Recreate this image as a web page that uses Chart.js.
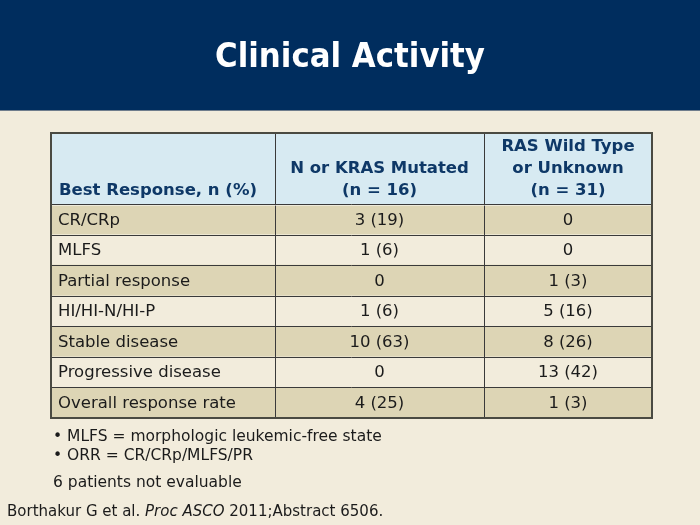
<!DOCTYPE html>
<html>
<head>
<meta charset="utf-8">
<script src="https://cdn.jsdelivr.net/npm/chart.js@4/dist/chart.umd.min.js"></script>
<style>
  html, body { margin: 0; padding: 0; background: #f2ecdc; }
  #wrap { width: 700px; height: 525px; }
</style>
</head>
<body>
<div id="wrap"><canvas id="c" width="700" height="525"></canvas></div>
<script>
// ---- data ----
const title = 'Clinical Activity';
const columnHeaders = [
  ['Best Response, n (%)'],
  ['N or KRAS Mutated', '(n = 16)'],
  ['RAS Wild Type', 'or Unknown', '(n = 31)']
];
const rowLabels = ['CR/CRp', 'MLFS', 'Partial response', 'HI/HI-N/HI-P', 'Stable disease', 'Progressive disease', 'Overall response rate'];
const mutatedN   = [3, 1, 0, 1, 10, 0, 4];
const mutatedPct = [19, 6, null, 6, 63, null, 25];
const wildN      = [0, 0, 1, 5, 8, 13, 1];
const wildPct    = [null, null, 3, 16, 26, 42, 3];
const footnotes = ['• MLFS = morphologic leukemic-free state', '• ORR = CR/CRp/MLFS/PR'];
const noteLine = '6 patients not evaluable';

// ---- layout / style constants ----
const COL_EDGES = [0, 224, 432, 600];
const HEADER_TOP = 133;
const FONT = '"DejaVu Sans", Verdana, sans-serif';
const C_BG = '#f2ecdc', C_NAVY = '#002d5e', C_HEAD = '#d7eaf2', C_TAN = '#ddd5b5', C_LIGHT = '#f2ecdc';
const C_HEAD_TXT = '#0e3867', C_TXT = '#1b1b1b', C_LINE = '#3a3a3a';

const fmt = (n, p) => (p === null || p === undefined) ? String(n) : `${n} (${p})`;
const cells = rowLabels.map((lab, i) => [lab, fmt(mutatedN[i], mutatedPct[i]), fmt(wildN[i], wildPct[i])]);

const tablePlugin = {
  id: 'tablePlugin',
  beforeDraw(chart) {
    const ctx = chart.ctx;
    ctx.save();
    ctx.fillStyle = C_BG;
    ctx.fillRect(0, 0, chart.width, chart.height);
    ctx.fillStyle = C_NAVY;
    ctx.fillRect(0, 0, chart.width, 110);
    ctx.fillStyle = '#6f7d8c';
    ctx.fillRect(0, 110, chart.width, 1);
    ctx.fillStyle = '#ffffff';
    ctx.font = `bold 34px ${FONT}`;
    ctx.textAlign = 'center';
    ctx.textBaseline = 'alphabetic';
    ctx.fillText(title, 350, 67, 270);
    ctx.restore();
  },
  afterDatasetsDraw(chart) {
    const ctx = chart.ctx;
    const xs = chart.scales.x, ys = chart.scales.y;
    const area = chart.chartArea;
    const xEdge = COL_EDGES.map(v => Math.round(xs.getPixelForValue(v)));
    const band = (ys.getPixelForValue(1) - ys.getPixelForValue(0));
    ctx.save();
    // header background
    ctx.fillStyle = C_HEAD;
    ctx.fillRect(xEdge[0], HEADER_TOP, xEdge[3] - xEdge[0], area.top - HEADER_TOP);
    // header text
    ctx.fillStyle = C_HEAD_TXT;
    ctx.font = `bold 16.5px ${FONT}`;
    ctx.textBaseline = 'middle';
    const lineH = 22;
    const lastY = 191;
    columnHeaders.forEach((lines, c) => {
      const cx = c === 0 ? xEdge[0] + 8 : (xEdge[c] + xEdge[c + 1]) / 2;
      ctx.textAlign = c === 0 ? 'left' : 'center';
      lines.forEach((t, k) => {
        const y = lastY - (lines.length - 1 - k) * lineH;
        ctx.fillText(t, cx, y);
      });
    });
    // body text
    ctx.fillStyle = C_TXT;
    ctx.font = `16.5px ${FONT}`;
    cells.forEach((row, i) => {
      const cy = ys.getPixelForValue(i) + 1;
      row.forEach((t, c) => {
        if (c === 0) { ctx.textAlign = 'left'; ctx.fillText(t, xEdge[0] + 7, cy); }
        else { ctx.textAlign = 'center'; ctx.fillText(t, (xEdge[c] + xEdge[c + 1]) / 2, cy); }
      });
    });
    // inner grid lines
    const bottom = Math.round(area.bottom);
    ctx.strokeStyle = C_LINE;
    ctx.lineWidth = 1;
    ctx.beginPath();
    for (let i = 0; i < rowLabels.length; i++) {
      const y = Math.round(ys.getPixelForValue(i) - band / 2) + 0.5;
      ctx.moveTo(xEdge[0], y); ctx.lineTo(xEdge[3], y);
    }
    for (let c = 1; c < xEdge.length - 1; c++) {
      ctx.moveTo(xEdge[c] + 0.5, HEADER_TOP); ctx.lineTo(xEdge[c] + 0.5, bottom);
    }
    ctx.stroke();
    // light line under header
    ctx.strokeStyle = 'rgba(255,255,255,0.5)';
    ctx.beginPath();
    const hy = Math.round(area.top) + 1.5;
    ctx.moveTo(xEdge[0], hy); ctx.lineTo(xEdge[3], hy);
    ctx.stroke();
    // outer border
    ctx.strokeStyle = '#4a4a42';
    ctx.lineWidth = 2;
    ctx.strokeRect(xEdge[0], HEADER_TOP, xEdge[3] - xEdge[0], bottom - HEADER_TOP);
    // footnotes
    ctx.fillStyle = C_TXT;
    ctx.textAlign = 'left';
    ctx.font = `15.5px ${FONT}`;
    footnotes.forEach((t, k) => ctx.fillText(t, 53, 437 + k * 19));
    ctx.fillText(noteLine, 53, 483);
    let x = 7;
    const parts = [['Borthakur G et al. ', ''], ['Proc ASCO', 'italic '], [' 2011;Abstract 6506.', '']];
    parts.forEach(([t, st]) => {
      ctx.font = `${st}15px ${FONT}`;
      ctx.fillText(t, x, 512);
      x += ctx.measureText(t).width;
    });
    ctx.restore();
  }
};

new Chart(document.getElementById('c'), {
  type: 'bar',
  data: {
    labels: rowLabels,
    datasets: [{
      data: rowLabels.map(() => [COL_EDGES[0], COL_EDGES[COL_EDGES.length - 1]]),
      backgroundColor: rowLabels.map((_, i) => i % 2 === 0 ? C_TAN : C_LIGHT),
      borderWidth: 0,
      barPercentage: 1,
      categoryPercentage: 1
    }]
  },
  options: {
    indexAxis: 'y',
    responsive: false,
    animation: false,
    layout: { padding: { left: 51, right: 48, top: 204, bottom: 107 } },
    plugins: { legend: { display: false }, tooltip: { enabled: false } },
    scales: {
      x: { type: 'linear', display: false, min: COL_EDGES[0], max: COL_EDGES[COL_EDGES.length - 1] },
      y: { type: 'category', display: false, offset: true }
    }
  },
  plugins: [tablePlugin]
});
</script>
</body>
</html>
